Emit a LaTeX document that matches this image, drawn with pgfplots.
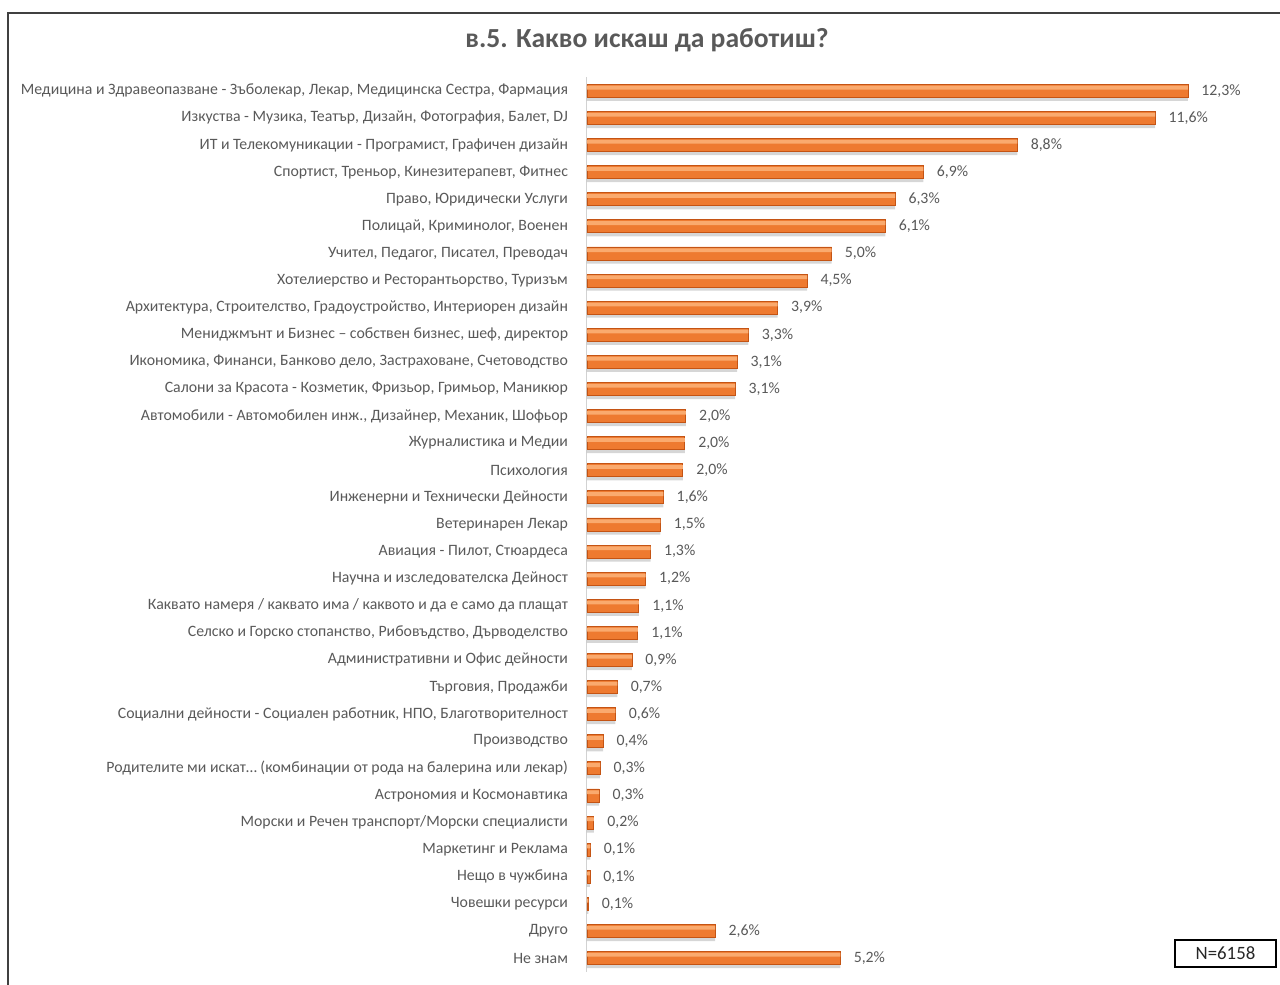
\documentclass[border=0pt]{standalone}
\usepackage{pgfplots}
\pgfplotsset{compat=1.18}
\usepackage{pgfplotstable}
\usepackage{fontspec}
\setmainfont{Carlito}
\definecolor{txt}{HTML}{595959}
\definecolor{frame}{HTML}{404040}
\definecolor{otop}{RGB}{250,170,110}
\definecolor{omid}{RGB}{238,122,48}
\definecolor{obot}{RGB}{196,84,20}
\pgfplotstableread{
idx len lab
0 12.29 12.3
1 11.62 11.6
2 8.80 8.8
3 6.88 6.9
4 6.30 6.3
5 6.10 6.1
6 5.00 5.0
7 4.50 4.5
8 3.90 3.9
9 3.30 3.3
10 3.07 3.1
11 3.03 3.1
12 2.02 2.0
13 2.00 2.0
14 1.96 2.0
15 1.56 1.6
16 1.50 1.5
17 1.30 1.3
18 1.20 1.2
19 1.06 1.1
20 1.04 1.1
21 0.92 0.9
22 0.62 0.7
23 0.58 0.6
24 0.33 0.4
25 0.27 0.3
26 0.25 0.3
27 0.14 0.2
28 0.07 0.1
29 0.06 0.1
30 0.03 0.1
31 2.62 2.6
32 5.18 5.2
}\datatab
\begin{document}
\begin{tikzpicture}[x=1pt,y=1pt]
\path[use as bounding box] (0,0) rectangle (640,492.5);
\draw[frame, line width=0.6pt] (4,0) -- (4,486) -- (640,486);
\node[font=\bfseries\fontsize{13.8}{16}\selectfont, text=txt] at (323.5,472.5) {в.5. Какво искаш да работиш?};
\begin{axis}[
  at={(293.5pt,6.72pt)}, anchor=south west,
  scale only axis, width=342.3pt, height=447.15pt,
  xmin=0, xmax=14, ymin=-0.5, ymax=32.5,
  y dir=reverse, clip=false,
  hide x axis,
  axis y line*=left,
  y axis line style={draw=gray!35, line width=0.5pt},
  ytick={0,1,2,3,4,5,6,7,8,9,10,11,12,13,14,15,16,17,18,19,20,21,22,23,24,25,26,27,28,29,30,31,32},
  major tick length=0pt,
  yticklabels={
    {Медицина и Здравеопазване - Зъболекар, Лекар, Медицинска Сестра, Фармация},
    {Изкуства - Музика, Театър, Дизайн, Фотография, Балет, DJ},
    {ИТ и Телекомуникации - Програмист, Графичен дизайн},
    {Спортист, Треньор, Кинезитерапевт, Фитнес},
    {Право, Юридически Услуги},
    {Полицай, Криминолог, Военен},
    {Учител, Педагог, Писател, Преводач},
    {Хотелиерство и Ресторантьорство, Туризъм},
    {Архитектура, Строителство, Градоустройство, Интериорен дизайн},
    {Мениджмънт и Бизнес – собствен бизнес, шеф, директор},
    {Икономика, Финанси, Банково дело, Застраховане, Счетоводство},
    {Салони за Красота - Козметик, Фризьор, Гримьор, Маникюр},
    {Автомобили - Автомобилен инж., Дизайнер, Механик, Шофьор},
    {Журналистика и Медии},
    {Психология},
    {Инженерни и Технически Дейности},
    {Ветеринарен Лекар},
    {Авиация - Пилот, Стюардеса},
    {Научна и изследователска Дейност},
    {Каквато намеря / каквато има / каквото и да е само да плащат},
    {Селско и Горско  стопанство, Рибовъдство, Дърводелство},
    {Административни и Офис дейности},
    {Търговия, Продажби},
    {Социални дейности - Социален работник, НПО, Благотворителност},
    {Производство},
    {Родителите ми искат… (комбинации от рода на балерина или лекар)},
    {Астрономия и Космонавтика},
    {Морски и Речен транспорт/Морски специалисти},
    {Маркетинг и Реклама},
    {Нещо в чужбина},
    {Човешки ресурси},
    {Друго},
    {Не знам}},
  yticklabel style={font=\fontsize{7.9}{9}\selectfont, text=txt, xshift=-6pt},
]
% shadow
\addplot[xbar, bar width=6.5pt, bar shift=-1.8pt, draw=none, fill=black, fill opacity=0.16]
  table[x=len, y=idx] {\datatab};
% main bar
\addplot[xbar, bar width=6.5pt, bar shift=0pt, draw=obot, line width=0.4pt, fill=omid,
  point meta=explicit,
  nodes near coords={\pgfmathprintnumber[fixed,fixed zerofill,precision=1,use comma,assume math mode=true]{\pgfplotspointmeta}\%},
  every node near coord/.append style={font=\fontsize{7.9}{9}\selectfont, text=txt, xshift=3.2pt, anchor=west}]
  table[x=len, y=idx, meta=lab] {\datatab};
% top highlight
\addplot[xbar, bar width=1.9pt, bar shift=1.6pt, draw=none, fill=otop]
  table[x=len, y=idx] {\datatab};
\end{axis}
\node[draw=black, line width=0.6pt, minimum width=50.5pt, minimum height=13.5pt, inner sep=0pt,
  font=\fontsize{9.4}{11}\selectfont, text=black!85] at (612.75,15.75) {N=6158};
\end{tikzpicture}
\end{document}
